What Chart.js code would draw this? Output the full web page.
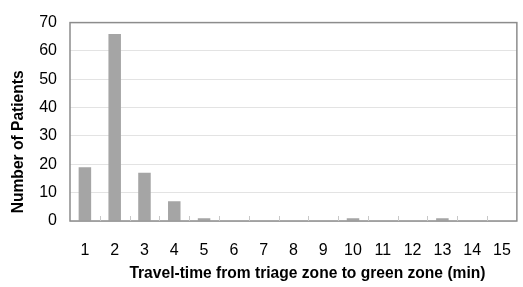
<!DOCTYPE html>
<html>
<head>
<meta charset="utf-8">
<script src="https://cdn.jsdelivr.net/npm/chart.js@4"></script>
<style>
  html, body { margin: 0; padding: 0; background: #fff; }
  #wrap { width: 523px; height: 287px; }
</style>
</head>
<body>
<div id="wrap"><canvas id="myChart" width="523" height="287"></canvas></div>
<script>
// travel time in minutes
const minutes = ["1", "2", "3", "4", "5", "6", "7", "8", "9", "10", "11", "12", "13", "14", "15"];
const patients = [19, 66, 17, 7, 1, 0, 0, 0, 0, 1, 0, 0, 1, 0, 0];
const yTicks = [0, 10, 20, 30, 40, 50, 60, 70];
const xTitle = "Travel-time from triage zone to green zone (min)";
const yTitle = "Number of Patients";

const fontName = "'Liberation Sans', Arial, sans-serif";

// frame round the plot area plus small inward ticks between categories
const framePlugin = {
    id: "frame",
    afterDraw(chart) {
        let ctx = chart.ctx;
        let area = chart.chartArea;
        let xs = chart.scales.x;
        ctx.save();
        ctx.strokeStyle = "#8c8c8c";
        ctx.lineWidth = 1.5;
        ctx.strokeRect(area.left, area.top, area.right - area.left, area.bottom - area.top);
        ctx.strokeStyle = "#c8c8c8";
        ctx.lineWidth = 1;
        for (let i = 1; i < minutes.length; i++) {
            let x = Math.round((xs.getPixelForValue(i - 1) + xs.getPixelForValue(i)) / 2) + 0.5;
            ctx.beginPath();
            ctx.moveTo(x, area.bottom);
            ctx.lineTo(x, area.bottom - 5);
            ctx.stroke();
        }
        ctx.restore();
    }
};

// axis titles sit a little off-centre in the original, so draw them here
const titlePlugin = {
    id: "axisTitles",
    afterDraw(chart) {
        let ctx = chart.ctx;
        let area = chart.chartArea;
        ctx.save();
        ctx.fillStyle = "#000";
        ctx.font = "bold 15.6px " + fontName;
        ctx.textAlign = "center";
        ctx.textBaseline = "middle";
        ctx.fillText(xTitle, (area.left + area.right) / 2 + 14, 274);
        ctx.translate(19, (area.top + area.bottom) / 2 + 20);
        ctx.rotate(-Math.PI / 2);
        ctx.fillText(yTitle, 0, 0);
        ctx.restore();
    }
};

const ctx1 = document.getElementById("myChart").getContext("2d");
const myChart = new Chart(ctx1, {
    type: "bar",
    data: {
        labels: minutes,
        datasets: [{
            data: patients,
            backgroundColor: "#a5a5a5",
            borderWidth: 0,
            categoryPercentage: 1,
            barPercentage: 0.42
        }]
    },
    options: {
        responsive: false,
        animation: false,
        layout: { autoPadding: false, padding: { top: 10, right: 4, left: 0, bottom: 0 } },
        plugins: {
            legend: { display: false },
            tooltip: { enabled: false }
        },
        scales: {
            x: {
                grid: { display: false },
                border: { display: false },
                ticks: {
                    color: "#000",
                    font: { family: fontName, size: 16 },
                    padding: 12,
                    maxRotation: 0
                },
                afterFit(scale) { scale.height = 66; }
            },
            y: {
                min: 0,
                max: 70,
                afterBuildTicks(scale) {
                    scale.ticks = yTicks.map(v => ({ value: v }));
                },
                grid: { color: "#e3e3e3", drawTicks: false },
                border: { display: false },
                ticks: {
                    color: "#000",
                    font: { family: fontName, size: 16 },
                    padding: 13
                },
                afterFit(scale) { scale.width = 70; }
            }
        }
    },
    plugins: [framePlugin, titlePlugin]
});
</script>
</body>
</html>
